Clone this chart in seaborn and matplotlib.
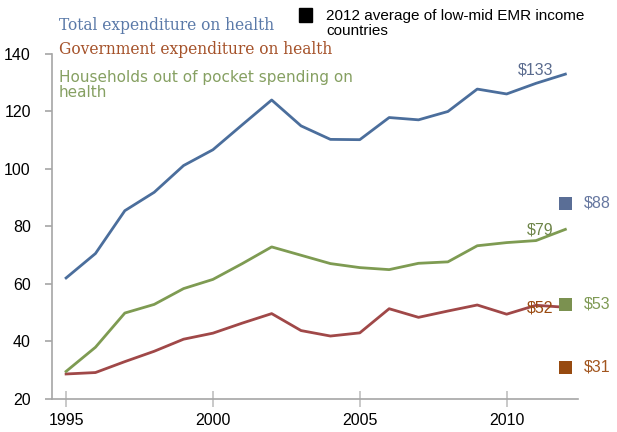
import pandas as pd
import seaborn as sns
import matplotlib.pyplot as plt

# data
years = list(range(1995, 2013))
total = [62.1, 70.6, 85.5, 91.9, 101.2, 106.7, 115.4, 124.0, 115.0, 110.3,
         110.2, 117.9, 117.1, 120.0, 127.8, 126.1, 129.8, 133.0]
government = [28.7, 29.2, 33.0, 36.6, 40.8, 42.9, 46.4, 49.7, 43.8, 41.9,
              43.0, 51.4, 48.4, 50.6, 52.7, 49.5, 52.6, 51.9]
households = [29.6, 38.0, 49.9, 52.9, 58.4, 61.6, 67.1, 72.9, 70.0, 67.1,
              65.7, 65.0, 67.2, 67.7, 73.3, 74.4, 75.1, 79.0]

series_names = ['Total expenditure on health',
                'Government expenditure on health',
                'Households out of pocket spending on\nhealth']
avg_year = 2012
avg_values = [88, 53, 31]  # 2012 average of low-mid EMR income countries
end_labels = ['$133', '$52', '$79']
avg_labels = ['$88', '$53', '$31']

line_colors = ['#4B6E9C', '#A04848', '#7E9B52']
square_colors = ['#5A6E96', '#7B9150', '#974A10']
avg_text_colors = ['#6677A0', '#7F9A55', '#A2561F']
legend_colors = ['#5A79A8', '#A5522A', '#86A062']
end_text_colors = ['#5A6B8E', '#9A4A10', '#6E8549']

df = pd.DataFrame({
    'year': years * 3,
    'value': total + government + households,
    'series': ['total'] * len(years) + ['gov'] * len(years) + ['hh'] * len(years),
})

fig = plt.figure(figsize=(6.17, 4.32), dpi=100)
ax = fig.add_axes([0.0838, 0.0764, 0.9363 - 0.0838, 0.875 - 0.0764])

sns.lineplot(data=df, x='year', y='value', hue='series',
             palette=dict(zip(['total', 'gov', 'hh'], line_colors)),
             linewidth=2.0, legend=False, ax=ax)

# 2012 average squares
avg_df = pd.DataFrame({'year': [avg_year] * 3, 'value': avg_values,
                       'kind': ['t', 'h', 'g']})
sns.scatterplot(data=avg_df, x='year', y='value', hue='kind',
                palette=dict(zip(['t', 'h', 'g'], square_colors)),
                marker='s', s=90, linewidth=0, legend=False, ax=ax,
                clip_on=False, zorder=5)

ax.set_xlim(1994.51, 2012.42)
ax.set_ylim(20, 140)
ax.set_xticks([1995, 2000, 2005, 2010])
ax.set_yticks(range(20, 141, 20))
ax.set_xlabel('')
ax.set_ylabel('')

for side in ['top', 'right']:
    ax.spines[side].set_visible(False)
for side in ['left', 'bottom']:
    ax.spines[side].set_color('#A6A6A6')
    ax.spines[side].set_linewidth(1.2)
ax.tick_params(axis='y', direction='out', length=5, width=1.2, color='#A6A6A6',
               labelsize=11.5, pad=10)
ax.tick_params(axis='x', direction='inout', length=12, width=1.2, color='#C0C0C0',
               labelsize=11.5, pad=4)
for lab in ax.get_xticklabels() + ax.get_yticklabels():
    lab.set_fontfamily('Liberation Sans')
ax.patch.set_visible(False)

# value labels at the end of the lines
end_vals = [134.5, 51.5, 78.7]
for lab, v, c in zip(end_labels, end_vals, end_text_colors):
    ax.text(2011.6, v, lab, ha='right', va='center', color=c,
            fontsize=11.5, family='Liberation Sans')
for lab, v, c in zip(avg_labels, avg_values, avg_text_colors):
    ax.text(2012.63, v, lab, ha='left', va='center', color=c,
            fontsize=11.5, family='Liberation Sans', clip_on=False)

# legend-like texts at the top
fig.text(59 / 617, 1 - 30 / 432, series_names[0], color=legend_colors[0],
         fontsize=11.2, family='DejaVu Serif', va='baseline')
fig.text(59 / 617, 1 - 54 / 432, series_names[1], color=legend_colors[1],
         fontsize=11.2, family='DejaVu Serif', va='baseline')
fig.text(59 / 617, 1 - 97 / 432, series_names[2], color=legend_colors[2],
         fontsize=11, family='DejaVu Sans', va='baseline', linespacing=1.0)

fig.patches.append(plt.Rectangle((299 / 617, 1 - 22 / 432), 13 / 617, 14 / 432,
                                 transform=fig.transFigure, color='black'))
fig.text(326 / 617, 1 - 35 / 432, '2012 average of low-mid EMR income\ncountries',
         color='black', fontsize=11, family='Liberation Sans', va='baseline',
         linespacing=1.05)

fig.savefig('out.png', dpi=100)
